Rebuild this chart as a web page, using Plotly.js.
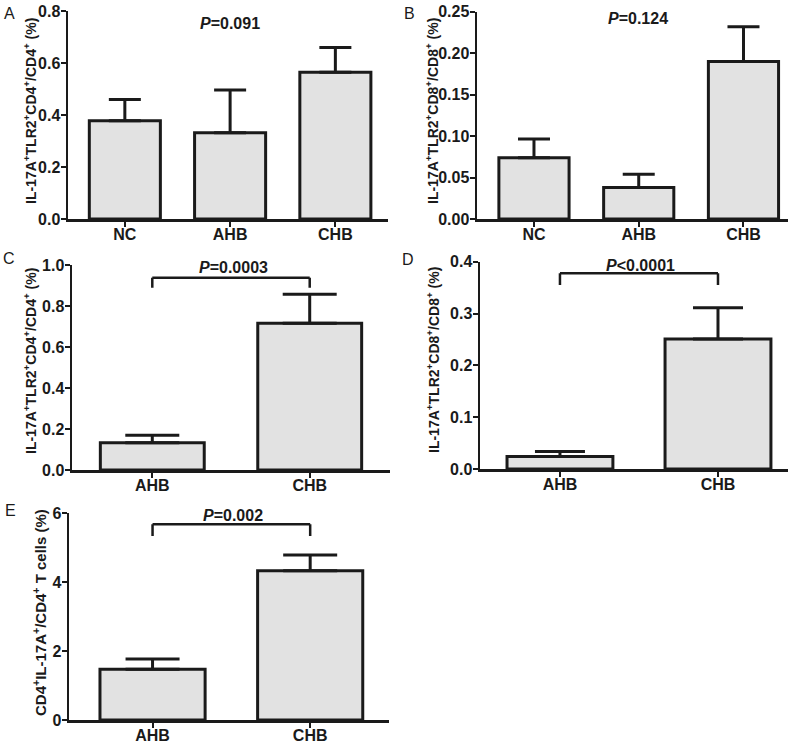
<!DOCTYPE html>
<html>
<head>
<meta charset="utf-8">
<script src="https://cdn.plot.ly/plotly-3.0.1.min.js"></script>
<style>html,body{margin:0;padding:0;background:#fff;}#chart{width:800px;height:745px;}</style>
</head>
<body>
<div id="chart"></div>
<script>
// ---- Data ----
const catsABC3 = ['NC', 'AHB', 'CHB'];
const cats2 = ['AHB', 'CHB'];

const meanA = [0.378, 0.332, 0.564];
const errA  = [0.082, 0.164, 0.096];

const meanB = [0.074, 0.038, 0.190];
const errB  = [0.0225, 0.016, 0.042];

const meanC = [0.133, 0.716];
const errC  = [0.036, 0.141];

const meanD = [0.024, 0.251];
const errD  = [0.010, 0.060];

const meanE = [1.47, 4.33];
const errE  = [0.30, 0.46];

const zero3 = [0, 0, 0];
const zero2 = [0, 0];

const pTextA = '<b><i>P</i>=0.091</b>';
const pTextB = '<b><i>P</i>=0.124</b>';
const pTextC = '<b><i>P</i>=0.0003</b>';
const pTextD = '<b><i>P</i>&lt;0.0001</b>';
const pTextE = '<b><i>P</i>=0.002</b>';

const titleCD4 = '<b>IL-17A<sup>+</sup>TLR2<sup>+</sup>CD4<sup>+</sup>/CD4<sup>+</sup> (%)</b>';
const titleCD8 = '<b>IL-17A<sup>+</sup>TLR2<sup>+</sup>CD8<sup>+</sup>/CD8<sup>+</sup> (%)</b>';
const titleE   = '<b>CD4<sup>+</sup>IL-17A<sup>+</sup>/CD4<sup>+</sup> T cells (%)</b>';

// ---- Styles ----
const FONT = 'Liberation Sans, Arial, sans-serif';
const INK = '#1a1a1a';
const FILL = '#e2e2e2';

function barTrace(x, y, err, minus, xa, ya, width, capw) {
  return {
    type: 'bar', x: x, y: y, xaxis: xa, yaxis: ya, width: width,
    marker: {color: FILL, line: {color: INK, width: 3}},
    error_y: {type: 'data', symmetric: false, array: err, arrayminus: minus,
              color: INK, thickness: 3, width: capw},
    hoverinfo: 'none', showlegend: false
  };
}

const data = [
  barTrace(catsABC3, meanA, errA, zero3, 'x', 'y', 0.675, 16),
  barTrace(catsABC3, meanB, errB, zero3, 'x2', 'y2', 0.67, 16),
  barTrace(cats2, meanC, errC, zero2, 'x3', 'y3', 0.66, 27),
  barTrace(cats2, meanD, errD, zero2, 'x4', 'y4', 0.67, 25),
  barTrace(cats2, meanE, errE, zero2, 'x5', 'y5', 0.667, 27)
];

function xAx(domain, range, anchor) {
  return {domain: domain, range: range, anchor: anchor, type: 'category',
    showline: true, linecolor: INK, linewidth: 2.5, ticks: 'outside', ticklen: 5,
    tickwidth: 2, tickcolor: INK, showgrid: false, zeroline: false, fixedrange: true,
    ticklabelstandoff: -6,
    tickfont: {family: FONT, size: 16, color: INK, weight: 'bold'}};
}
function yAx(domain, range, dtick, fmt, anchor) {
  return {domain: domain, range: range, anchor: anchor, dtick: dtick, tick0: 0, tickformat: fmt,
    showline: true, linecolor: INK, linewidth: 2.5, ticks: 'outside', ticklen: 5,
    tickwidth: 2, tickcolor: INK, showgrid: false, zeroline: false, fixedrange: true,
    ticklabelstandoff: -3,
    tickfont: {family: FONT, size: 16, color: INK, weight: 'bold'}};
}

function bracket(xa, ya, yTop, yLeg) {
  const ln = {color: INK, width: 2.5};
  return [
    {type: 'line', xref: xa, yref: ya, x0: 'AHB', x1: 'CHB', y0: yTop, y1: yTop, line: ln},
    {type: 'line', xref: xa, yref: ya, x0: 'AHB', x1: 'AHB', y0: yTop, y1: yLeg, line: ln},
    {type: 'line', xref: xa, yref: ya, x0: 'CHB', x1: 'CHB', y0: yTop, y1: yLeg, line: ln}
  ];
}

function ann(text, x, y, size, angle) {
  return {text: text, x: x / 800, y: 1 - y / 745, xref: 'paper', yref: 'paper',
    xanchor: 'center', yanchor: 'middle', showarrow: false, textangle: angle || 0,
    font: {family: FONT, size: size, color: INK}};
}

const layout = {
  width: 800, height: 745,
  margin: {l: 0, r: 0, t: 0, b: 0},
  paper_bgcolor: '#fff', plot_bgcolor: '#fff',
  bargap: 0,
  xaxis:  xAx([68/800, 388/800], [-0.54, 2.5], 'y'),
  yaxis:  yAx([1 - 219/745, 1 - 11/745], [0, 0.8], 0.2, '.1f', 'x'),
  xaxis2: xAx([477/800, 788/800], [-0.544, 2.425], 'y2'),
  yaxis2: yAx([1 - 219/745, 1 - 11.7/745], [0, 0.25], 0.05, '.2f', 'x2'),
  xaxis3: xAx([72/800, 390/800], [-0.51, 1.51], 'y3'),
  yaxis3: yAx([1 - 470/745, 1 - 265/745], [0, 1.0], 0.2, '.1f', 'x3'),
  xaxis4: xAx([480/800, 788/800], [-0.506, 1.443], 'y4'),
  yaxis4: yAx([1 - 469/745, 1 - 261.7/745], [0, 0.4], 0.1, '.1f', 'x4'),
  xaxis5: xAx([69/800, 389/800], [-0.53, 1.5], 'y5'),
  yaxis5: yAx([1 - 720/745, 1 - 513.3/745], [0, 6], 2, 'd', 'x5'),
  shapes: [].concat(
    bracket('x3', 'y3', 0.938, 0.889),
    bracket('x4', 'y4', 0.3776, 0.355),
    bracket('x5', 'y5', 5.68, 5.34)
  ),
  annotations: [
    ann('A', 9, 14, 16), ann('B', 409, 14, 16), ann('C', 9, 258, 16),
    ann('D', 408, 259, 16), ann('E', 10, 510, 16),
    ann(pTextA, 230, 23, 16), ann(pTextB, 638, 18, 16), ann(pTextC, 233, 267, 16),
    ann(pTextD, 640, 265, 16), ann(pTextE, 233, 515, 16),
    ann(titleCD4, 30, 111, 14, -90), ann(titleCD8, 432, 111, 14, -90),
    ann(titleCD4, 30, 361, 14, -90), ann(titleCD8, 433, 360, 14, -90),
    ann(titleE, 39, 613, 15, -90)
  ]
};

Plotly.newPlot('chart', data, layout, {displayModeBar: false, staticPlot: true});
</script>
</body>
</html>
